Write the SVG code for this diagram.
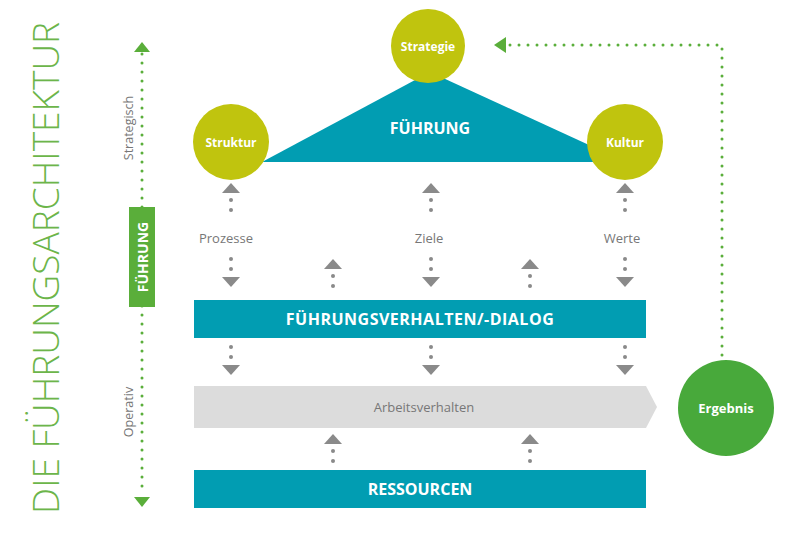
<svg xmlns="http://www.w3.org/2000/svg" width="800" height="534" viewBox="0 0 800 534">
<style>
.sans{font-family:"Open Sans","Noto Sans","Liberation Sans",sans-serif}
.teal{fill:#019db2}
.yg{fill:#c0c40e}
.gdot{stroke:#5aae3a;stroke-width:3;stroke-linecap:round;stroke-dasharray:0 9;fill:none}
.gr{fill:#8a8a8a}
.wl{fill:#fff;font-weight:bold}
</style>
<defs>
<g id="up"><polygon class="gr" points="-9,10 9,10 0,0"/><circle class="gr" cx="0" cy="17" r="2"/><circle class="gr" cx="0" cy="27" r="2"/></g>
<g id="dn"><circle class="gr" cx="0" cy="0" r="2"/><circle class="gr" cx="0" cy="10" r="2"/><polygon class="gr" points="-9,18 9,18 0,28"/></g>
</defs>
<rect width="800" height="534" fill="#fff"/>
<text class="sans" transform="translate(59,268) rotate(-90)" text-anchor="middle" font-size="37" font-weight="300" fill="#6cb54a">DIE FÜHRUNGSARCHITEKTUR</text>
<g id="connectors">
<line class="gdot" x1="142" y1="54" x2="142" y2="495"/>
<polygon points="134,52 150,52 142,42" fill="#5aae3a"/>
<polygon points="134,497 150,497 142,507" fill="#5aae3a"/>
<polyline class="gdot" points="722,355 722,45 506,45"/>
<polygon points="506,37 506,53 494,45" fill="#5aae3a"/>
<use href="#up" x="231" y="183"/><use href="#up" x="431" y="183"/><use href="#up" x="625" y="183"/>
<use href="#dn" x="231" y="259"/><use href="#dn" x="431" y="259"/><use href="#dn" x="625" y="259"/>
<use href="#up" x="333" y="259"/><use href="#up" x="530" y="259"/>
<use href="#dn" x="231" y="347"/><use href="#dn" x="431" y="347"/><use href="#dn" x="625" y="347"/>
<use href="#up" x="333" y="434"/><use href="#up" x="530" y="434"/>
</g>
<g id="axis-labels">
<text class="sans" transform="translate(133,128) rotate(-90)" text-anchor="middle" font-size="12.5" fill="#777">Strategisch</text>
<text class="sans" transform="translate(133,412) rotate(-90)" text-anchor="middle" font-size="12.5" fill="#777">Operativ</text>
</g>
<g id="fuehrung-box"><rect x="129" y="207" width="26" height="100" fill="#5aae3a"/>
<text class="sans wl" transform="translate(148,257) rotate(-90)" text-anchor="middle" font-size="14">FÜHRUNG</text></g>
<g id="triangle"><polygon class="teal" points="262,162 626,162 430,72"/>
<text class="sans wl" x="430" y="134" text-anchor="middle" font-size="16">FÜHRUNG</text></g>
<g id="strategie"><circle class="yg" cx="428" cy="46" r="37"/><text class="sans wl" x="428" y="51" text-anchor="middle" font-size="12">Strategie</text></g>
<g id="struktur"><circle class="yg" cx="231" cy="142" r="38"/><text class="sans wl" x="231" y="147" text-anchor="middle" font-size="12">Struktur</text></g>
<g id="kultur"><circle class="yg" cx="625" cy="142" r="38"/><text class="sans wl" x="625" y="147" text-anchor="middle" font-size="12">Kultur</text></g>
<g id="labels" class="sans" font-size="13" fill="#777" text-anchor="middle">
<text x="226" y="243">Prozesse</text><text x="429" y="243">Ziele</text><text x="622" y="243">Werte</text></g>
<g id="verhalten"><rect class="teal" x="194" y="300" width="452" height="38"/>
<text class="sans wl" x="420" y="325" text-anchor="middle" font-size="16" letter-spacing="0.5">FÜHRUNGSVERHALTEN/-DIALOG</text></g>
<g id="arbeit"><polygon points="194,386 646,386 657,407 646,428 194,428" fill="#dcdcdc"/>
<text class="sans" x="424" y="412" text-anchor="middle" font-size="13" fill="#777">Arbeitsverhalten</text></g>
<g id="ressourcen"><rect class="teal" x="194" y="470" width="452" height="38"/>
<text class="sans wl" x="420" y="495" text-anchor="middle" font-size="16">RESSOURCEN</text></g>
<g id="ergebnis"><circle cx="726" cy="408" r="48" fill="#48a93b"/><text class="sans wl" x="726" y="413" text-anchor="middle" font-size="13">Ergebnis</text></g>
</svg>
